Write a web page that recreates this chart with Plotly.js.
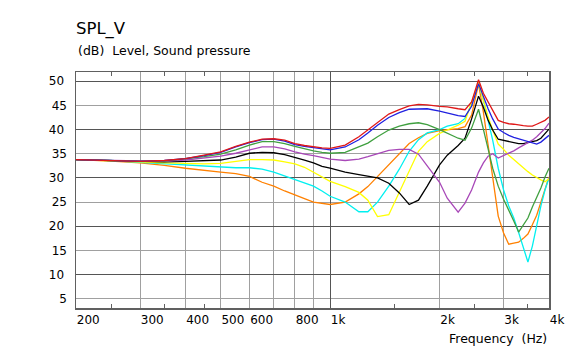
<!DOCTYPE html>
<html>
<head>
<meta charset="utf-8">
<script src="https://cdn.plot.ly/plotly-3.0.1.min.js"></script>
<style>html,body{margin:0;padding:0;background:#fff;}#chart{width:578px;height:351px;}</style>
</head>
<body>
<div id="chart"></div>
<script>
const freqs = [200,250,300,350,400,450,500,550,600,650,700,750,800,850,900,950,1000,
  1100,1200,1270,1350,1450,1550,1650,1750,1850,2000,
  2100,2250,2350,2450,2560,2640,2720,2800,2900,3000,
  3100,3200,3300,3400,3500,3600,3700,3800,3900,4000];

const orange = [33.8,33.5,33.1,32.6,32.0,31.5,31.2,30.9,30.3,29.1,28.3,27.3,26.4,25.7,25.0,24.7,24.5,
  25.0,26.7,28.2,30.3,32.8,35.0,37.1,38.3,39.2,39.8,
  40.0,40.2,40.6,43.0,49.4,43.6,36.8,30.0,22.1,18.6,
  16.3,16.5,16.7,17.5,18.4,20.3,22.3,25.0,27.7,30.2];
const cyan = [33.8,33.6,33.2,32.9,32.6,32.4,32.2,32.1,32.1,31.8,31.2,30.4,29.8,29.1,28.3,27.3,26.2,
  25.0,23.0,23.0,25.0,28.3,31.8,35.5,37.9,39.3,40.0,
  40.7,41.2,42.3,45.3,49.5,46.1,41.9,37.8,32.0,27.5,
  24.2,21.7,18.7,15.7,12.6,15.9,20.5,24.2,27.5,30.0];
const yellow = [33.8,33.6,33.3,33.1,33.0,32.9,33.0,33.5,33.8,33.8,33.7,33.3,32.9,32.2,31.2,30.2,29.3,
  28.2,27.0,25.4,22.0,22.4,27.1,31.6,35.5,37.5,39.2,
  39.9,40.9,41.7,45.5,49.8,46.1,42.6,39.9,37.0,35.9,
  34.7,33.8,32.9,32.0,31.3,30.6,30.0,29.6,29.2,29.8];
const black = [33.8,33.6,33.3,33.3,33.4,33.5,33.7,34.3,35.1,35.3,35.2,34.8,34.3,33.7,33.1,32.4,32.0,
  31.2,30.7,30.4,30.0,28.9,26.9,24.5,25.4,28.3,32.7,
  34.7,36.7,38.2,42.2,46.9,44.6,41.9,39.9,38.0,37.8,
  37.5,37.3,37.1,37.1,37.3,37.5,37.7,38.2,39.1,40.1];
const purple = [33.8,33.6,33.4,33.4,33.7,34.1,34.5,35.1,35.7,36.4,36.4,36.0,35.4,34.9,34.6,34.3,33.9,
  33.6,33.9,34.4,35.0,35.7,35.9,35.9,34.9,32.4,29.1,
  25.8,22.9,24.8,27.5,31.2,33.1,34.5,35.0,34.1,34.6,
  35.1,35.6,36.2,36.7,37.2,37.8,38.5,39.3,40.2,41.3];
const green = [33.8,33.6,33.4,33.5,33.9,34.4,34.9,35.8,36.8,37.5,37.5,37.1,36.5,36.0,35.6,35.3,35.1,
  35.3,36.4,37.2,38.5,39.9,40.7,41.2,41.4,41.0,40.0,
  39.2,38.2,37.8,40.3,44.2,40.3,36.0,32.0,28.3,25.6,
  23.4,21.1,18.8,20.3,21.7,24.0,26.0,27.9,30.2,32.0];
const blue = [33.8,33.6,33.4,33.6,34.0,34.6,35.3,36.4,37.3,37.9,38.0,37.6,36.9,36.5,36.2,36.0,35.8,
  36.4,37.9,39.3,40.9,42.5,43.5,44.2,44.3,44.3,43.8,
  43.4,42.9,42.7,44.8,49.5,46.8,44.3,42.2,40.1,39.4,
  38.8,38.4,38.1,37.8,37.5,37.2,37.0,37.4,38.1,38.8];
const red = [33.8,33.6,33.4,33.6,34.0,34.7,35.4,36.5,37.4,38.0,38.1,37.8,37.1,36.7,36.4,36.2,36.1,
  36.8,38.5,39.9,41.4,43.2,44.1,44.9,45.2,45.1,44.8,
  44.7,44.3,44.1,45.7,50.3,47.5,45.8,44.0,41.9,41.5,
  41.2,41.1,40.9,40.8,40.7,40.7,41.1,41.5,41.9,42.6];

const xLabelVals = [200,300,400,500,600,800,1000,2000,3000,4000];
const xLabelText = ['200','300','400','500','600','800','1k','2k','3k','4k'];
const xLightGrid = [300,400,500,600,700,800,900,2000,3000];
const xDarkGrid = [1000];
const xMinorVals = [250,350,450,1500,2500,3500];
const yOddVals = [5,15,25,35,45];
const yMajorVals = [10,20,30,40,50];

const seriesList = [
  {y: orange, c: '#ff8000'},
  {y: cyan, c: '#00f0f0'},
  {y: yellow, c: '#ffff00'},
  {y: black, c: '#000000'},
  {y: purple, c: '#a848b8'},
  {y: green, c: '#40a040'},
  {y: blue, c: '#2020e0'},
  {y: red, c: '#e01818'}
];

const traces = seriesList.map(s => ({
  x: freqs, y: s.y, type: 'scatter', mode: 'lines',
  line: {color: s.c, width: 1.3}, hoverinfo: 'skip'
}));
// carrier (draws nothing) so that the label/tick axes x2/y2 exist
traces.unshift({x: freqs, y: red, xaxis: 'x2', yaxis: 'y2', type: 'scatter', mode: 'none', hoverinfo: 'skip'});

const font = {family: 'DejaVu Sans, Verdana, sans-serif', size: 12, color: '#000'};
const xr = [Math.log10(200), Math.log10(4000)];
const yr = [3.1, 51.9];
const lightGrid = '#a0a0a0';
const darkGrid = '#555555';
const frame = '#606060';

const layout = {
  width: 578, height: 351,
  margin: {l: 76, r: 29, t: 72, b: 43},
  paper_bgcolor: '#fff', plot_bgcolor: '#fff',
  showlegend: false,
  font: font,
  title: {text: 'SPL_V', font: {family: font.family, size: 16.5, color: '#000'},
          x: 0, xref: 'paper', xanchor: 'left', y: 1 - 28/351, yref: 'container', yanchor: 'middle'},
  xaxis: {
    type: 'log', range: xr, tickmode: 'array', tickvals: xDarkGrid, ticktext: [''],
    showticklabels: false, ticks: '', showgrid: true, gridcolor: darkGrid, gridwidth: 1,
    showline: true, linecolor: frame, linewidth: 1.5, mirror: true, zeroline: false,
    minor: {tickmode: 'array', tickvals: xLightGrid, ticks: '', showgrid: true, gridcolor: lightGrid, gridwidth: 1}
  },
  xaxis2: {
    type: 'log', range: xr, overlaying: 'x', anchor: 'y', side: 'bottom',
    tickmode: 'array', tickvals: xLabelVals, ticktext: xLabelText, tickangle: 0,
    ticklabelposition: 'outside right', tickfont: font, ticks: '', showgrid: false,
    showline: true, linecolor: frame, linewidth: 1.5, mirror: 'allticks', zeroline: false,
    minor: {tickmode: 'array', tickvals: xMinorVals, ticks: 'inside', ticklen: 4, tickcolor: frame, tickwidth: 1, showgrid: false}
  },
  yaxis: {
    range: yr, tickmode: 'array', tickvals: yMajorVals, ticks: '', showgrid: true,
    gridcolor: darkGrid, gridwidth: 1, showline: true, linecolor: frame, linewidth: 1.5, mirror: true,
    tickfont: font, ticklabelstandoff: 8, zeroline: false,
    minor: {tickmode: 'array', tickvals: yOddVals, ticks: '', showgrid: true, gridcolor: lightGrid, gridwidth: 1}
  },
  yaxis2: {
    range: yr, overlaying: 'y', anchor: 'x', side: 'left', tickmode: 'array', tickvals: yOddVals,
    ticks: '', showgrid: false, showline: false, zeroline: false, tickfont: font, ticklabelstandoff: 8
  },
  annotations: [
    {text: '(dB)\u00a0\u00a0Level, Sound pressure', xref: 'paper', yref: 'paper', x: 0, xanchor: 'left',
     y: 1 + 22/236, yanchor: 'middle', showarrow: false, font: {family: font.family, size: 12.5, color: '#000'}},
    {text: 'Frequency\u00a0\u00a0(Hz)', xref: 'paper', yref: 'paper', x: 1, xanchor: 'right',
     y: -30/236, yanchor: 'middle', showarrow: false, font: {family: font.family, size: 12.5, color: '#000'}}
  ]
};

Plotly.newPlot('chart', traces, layout, {staticPlot: true, displayModeBar: false});
</script>
</body>
</html>
